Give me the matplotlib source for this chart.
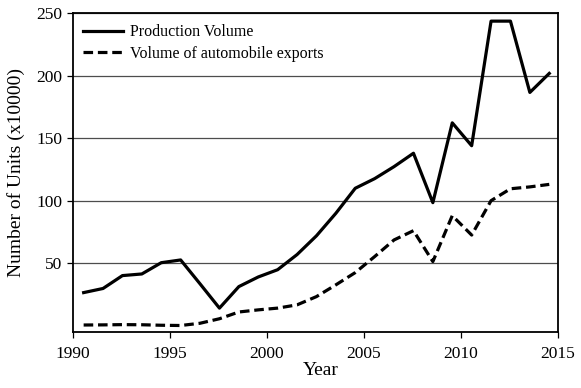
import numpy as np
import matplotlib
matplotlib.use("Agg")
import matplotlib.pyplot as plt

plt.rcParams['font.family'] = ['Liberation Serif', 'DejaVu Serif']

# yearly figures, in units of 10000 vehicles
years = list(range(1990, 2015))
production = [26.5, 29.8, 40.1, 41.4, 50.4, 52.6, 33.5, 14.1, 31.3, 39.0,
              44.8, 56.9, 71.9, 89.9, 109.9, 117.6, 127.2, 137.9, 98.4, 162.2,
              143.9, 243.5, 243.5, 186.5, 201.7]
exports = [0.6, 0.7, 0.9, 0.8, 0.4, 0.2, 2.0, 5.6, 11.0, 12.7,
           14.1, 16.7, 23.3, 32.7, 42.5, 55.3, 68.6, 76.0, 51.3, 88.0,
           72.5, 100.0, 109.5, 111.0, 113.0]

x_ticks = [1990, 1995, 2000, 2005, 2010, 2015]
y_ticks = [50, 100, 150, 200, 250]

# values are plotted in the middle of each year
x = np.array(years) + 0.55

fig = plt.figure(figsize=(5.81, 3.88), dpi=100)
ax = fig.add_axes([0.1256, 0.1443, 0.8348, 0.8222])

ax.plot(x, production, color='black', lw=2.3, label='Production Volume')
ax.plot(x, exports, color='black', lw=2.3, ls=(0, (3, 1.5)),
        label='Volume of automobile exports')

ax.set_xlim(1990, 2015)
ax.set_ylim(-5, 250)
ax.set_xticks(x_ticks)
ax.set_yticks(y_ticks)
ax.yaxis.grid(True, color='0.3', lw=0.9)
ax.set_axisbelow(True)
ax.tick_params(labelsize=12.5, length=4, width=0.9, direction='out')
ax.tick_params(axis='x', pad=6)
for s in ax.spines.values():
    s.set_linewidth(1.3)

ax.set_xlabel('Year', fontsize=14)
ax.xaxis.set_label_coords(0.511, -0.095)
ax.set_ylabel('Number of Units (x10000)', fontsize=14)
ax.yaxis.set_label_coords(-0.098, 0.5)

ax.legend(loc='upper left', bbox_to_anchor=(0.02, 0.965), frameon=False,
          fontsize=11.5, handlelength=2.5, handletextpad=0.45,
          labelspacing=0.35, borderpad=0, borderaxespad=0)

fig.savefig('out.png', dpi=100)
